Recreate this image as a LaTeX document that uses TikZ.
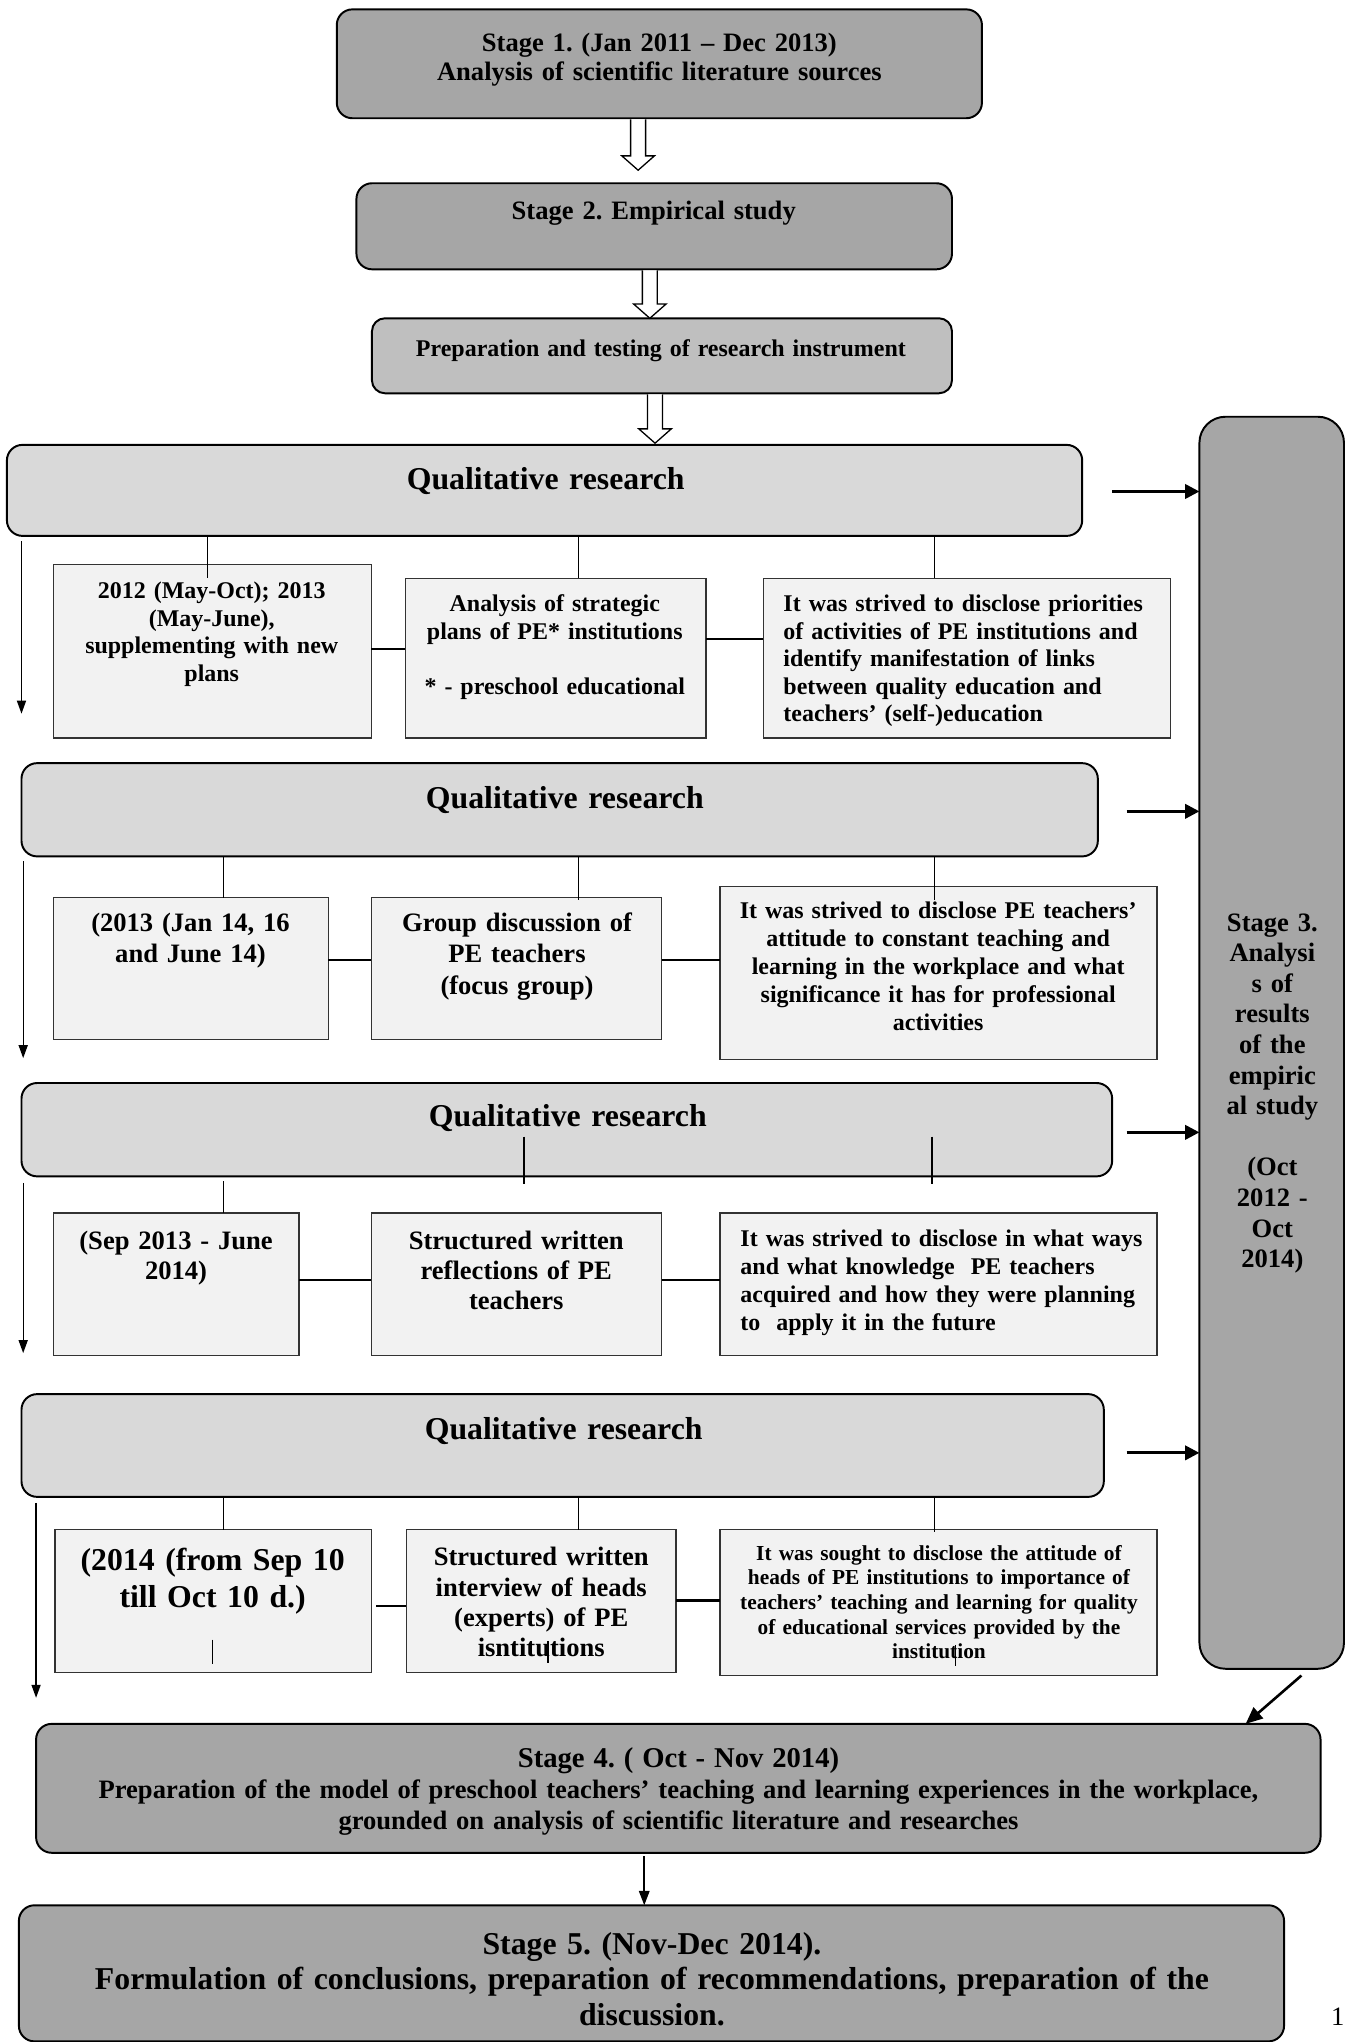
\documentclass[tikz,border=0pt]{standalone}
\usepackage{fontspec}
\setmainfont{Liberation Serif}
\usetikzlibrary{arrows.meta,calc,fit}
\definecolor{stagegray}{RGB}{166,166,166}
\definecolor{prepgray}{RGB}{191,191,191}
\definecolor{qrgray}{RGB}{217,217,217}
\definecolor{subgray}{RGB}{242,242,242}
\frenchspacing
\newcommand\fitbox[6]{\node[#2, fit={(#3,#4) (#5,#6)}] (#1) {};}
\newcommand\hollowarrow[2]{\filldraw[fill=white,draw=black,line width=1pt] let \p1=#1, \p2=#2 in
  (\x1-5.75pt,\y1-0.8pt) -- (\x1-5.75pt,\y2+11pt) -- (\x1-12.5pt,\y2+11pt) -- (\x1,\y2)
  -- (\x1+12.5pt,\y2+11pt) -- (\x1+5.75pt,\y2+11pt) -- (\x1+5.75pt,\y1-0.8pt);}
\begin{document}
\begin{tikzpicture}[x=1pt,y=-1pt,
  box/.style={draw, inner sep=0pt, outer sep=0pt},
  stagebox/.style={box, line width=1.5pt, fill=stagegray, rounded corners=12pt},
  prepbox/.style={box, line width=1.5pt, fill=prepgray, rounded corners=10pt},
  qrbox/.style={box, line width=1.5pt, fill=qrgray, rounded corners=12pt},
  subbox/.style={box, draw=black!80, line width=1pt, fill=subgray},
  txt/.style={inner sep=0pt, outer sep=0pt, align=center, anchor=base},
  ltxt/.style={inner sep=0pt, outer sep=0pt, align=left, anchor=base west},
  fz/.style 2 args={font=\fontsize{#1}{#2}\selectfont\bfseries},
  vline/.style={line width=0.9pt},
  hline/.style={line width=1.8pt},
  rarrow/.style={line width=2.2pt, -{Triangle[length=11pt,width=11pt]}},
  darrow/.style={line width=1pt, -{Triangle[length=10pt,width=7pt]}},
  diagarrow/.style={line width=2pt, -{Triangle[length=13pt,width=11pt]}},
  sarrow/.style={line width=1.5pt, -{Triangle[length=11pt,width=8pt]}}
]
\useasboundingbox (0,0) rectangle (1034,1568);

% ---------- boxes ----------
\fitbox{s1}{stagebox}{258.6}{7.2}{754}{90.8}
\fitbox{s2}{stagebox}{273.7}{140.7}{731}{206.8}
\fitbox{prep}{prepbox}{285.6}{244.4}{731}{302}
\fitbox{s3}{stagebox, rounded corners=20pt}{921}{320}{1032}{1281.4}
\fitbox{q1}{qrbox}{5.3}{341.6}{831}{411.5}
\fitbox{q2}{qrbox}{16.5}{586}{843}{657.6}
\fitbox{q3}{qrbox}{16.5}{831.6}{854}{903.3}
\fitbox{q4}{qrbox}{16.5}{1070.5}{847.6}{1149.4}
\fitbox{A}{subbox}{40.9}{433.7}{285}{566.8}
\fitbox{B}{subbox}{311.3}{444}{542}{566.8}
\fitbox{C}{subbox}{586}{444}{899}{566.8}
\fitbox{D}{subbox}{40.9}{689.2}{252}{798}
\fitbox{E}{subbox}{285}{689.2}{508}{798}
\fitbox{F}{subbox}{552.8}{680.5}{888.5}{813.5}
\fitbox{G}{subbox}{40.9}{931.4}{229.6}{1040.9}
\fitbox{H}{subbox}{285}{931.4}{508}{1040.9}
\fitbox{I}{subbox}{552.8}{931.4}{888.5}{1040.9}
\fitbox{J}{subbox}{42.2}{1174.5}{285}{1284}
\fitbox{K}{subbox}{312}{1174.5}{519}{1284}
\fitbox{L}{subbox}{552.8}{1174.5}{888.5}{1286.8}
\fitbox{s4}{stagebox}{27.7}{1323.7}{1014}{1422.7}
\fitbox{s5}{stagebox}{14.5}{1463}{986}{1567.5}

% ---------- texts ----------
\node[txt, fz={20.4}{22}, text width=480] (t1) at (506.3,39.6)
  {Stage 1. (Jan 2011 – Dec 2013)\\Analysis of scientific literature sources};
\node[txt, fz={20.4}{23.5}, text width=440] (t2) at (502,168.3) {Stage 2. Empirical study};
\node[txt, fz={18.4}{21.5}, text width=440] (tp) at (507.5,273.6) {Preparation and testing of research instrument};
\node[txt, fz={24.4}{28}, text width=400] (tq1) at (419,376) {Qualitative research};
\node[txt, fz={24.4}{28}, text width=400] (tq2) at (433.7,620.5) {Qualitative research};
\node[txt, fz={24.4}{28}, text width=400] (tq3) at (436,865) {Qualitative research};
\node[txt, fz={24.4}{28}, text width=400] (tq4) at (432.8,1105) {Qualitative research};

\node[txt, fz={18.4}{21.3}, text width=240] (tA) at (162.6,459.5)
  {2012 (May-Oct); 2013\\(May-June),\\supplementing with new\\plans};
\node[txt, fz={18.4}{21.3}, text width=228] (tB) at (426,469.6)
  {Analysis of strategic\\plans of PE* institutions\\\mbox{}\\{*} - preschool educational};
\node[ltxt, fz={18.4}{21.1}, text width=295] (tC) at (601.6,469.6)
  {It was strived to disclose priorities\\of activities of PE institutions and\\identify manifestation of links\\between quality education and\\teachers’ (self-)education};

\node[txt, fz={20.4}{24.3}, text width=208] (tD) at (146.3,715) {(2013 (Jan 14, 16\\and June 14)};
\node[txt, fz={20.4}{24.3}, text width=220] (tE) at (397,715) {Group discussion of\\PE teachers\\(focus group)};
\node[txt, fz={18.4}{21.45}, text width=330] (tF) at (720.4,705.5)
  {It was strived to disclose PE teachers’\\attitude to constant teaching and\\learning in the workplace and what\\significance it has for professional\\activities};

\node[txt, fz={20.4}{22.6}, text width=186] (tG) at (135.2,959.5) {(Sep 2013 - June\\2014)};
\node[txt, fz={20.4}{23}, text width=220] (tH) at (396.4,959.5) {Structured written\\reflections of PE\\teachers};
\node[ltxt, fz={18.4}{21.5}, text width=318] (tI) at (568.6,957.3)
  {It was strived to disclose in what ways\\and what knowledge\ \ PE teachers\\acquired and how they were planning\\to\ \ apply it in the future};

\node[txt, fz={24.4}{28}, text width=240] (tJ) at (163.3,1206) {(2014 (from Sep 10\\till Oct 10 d.)};
\node[txt, fz={20.4}{23.3}, text width=205] (tK) at (415.6,1202.4)
  {Structured written\\interview of heads\\(experts) of PE\\isntitutions};
\node[txt, fz={16.4}{18.9}, text width=332] (tL) at (721,1198)
  {It was sought to disclose the attitude of\\heads of PE institutions to importance of\\teachers’ teaching and learning for quality\\of educational services provided by the\\institution};

\node[txt, fz={20.4}{23.5}, text width=108] (t3) at (977,715)
  {Stage 3.\\Analysi\\s of\\results\\of the\\empiric\\al study\\\mbox{}\\(Oct\\2012 -\\Oct\\2014)};

\node[txt, fz={20.4}{23.7}, text width=970] (t4) at (521,1357.5)
  {{\fontsize{22}{23.7}\selectfont Stage 4. ( Oct - Nov 2014)}\\Preparation of the model of preschool teachers’ teaching and learning experiences in the workplace,\\grounded on analysis of scientific literature and researches};
\node[txt, fz={24.4}{27.5}, text width=960] (t5) at (500.6,1500.5)
  {Stage 5. (Nov-Dec 2014).\\Formulation of conclusions, preparation of recommendations, preparation of the\\discussion.};
\node[inner sep=0pt, anchor=base west, font=\fontsize{20.4}{23.5}\selectfont] (pg) at (1022,1555) {1};

% ---------- hollow arrows ----------
\coordinate (ha1) at (490,0);
\coordinate (ha2) at (499,0);
\coordinate (ha3) at (503,0);
\hollowarrow{(s1.south -| ha1)}{($(s2.north -| ha1)+(0,-10)$)}
\hollowarrow{(s2.south -| ha2)}{(prep.north -| ha2)}
\hollowarrow{(prep.south -| ha3)}{($(q1.north -| ha3)+(0,-1.3)$)}

% ---------- vertical connectors ----------
\coordinate (vA) at (159.6,0);  \coordinate (vB) at (444,0);   \coordinate (vC) at (717.7,0);
\coordinate (vD) at (171.5,0);  \coordinate (vE) at (444,0);   \coordinate (vF) at (717.7,0);
\coordinate (vG) at (171.5,0);  \coordinate (vH) at (402.4,0); \coordinate (vI) at (715.7,0);
\coordinate (vJ) at (171.5,0);  \coordinate (vK) at (444,0);   \coordinate (vL) at (717.7,0);

\draw[vline] (q1.south -| vA) -- ($(A.north -| vA)+(0,10.3)$);
\draw[vline] (q1.south -| vB) -- (B.north -| vB);
\draw[vline] (q1.south -| vC) -- (C.north -| vC);

\draw[vline] (q2.south -| vD) -- (D.north -| vD);
\draw[vline] (q2.south -| vE) -- ($(E.north -| vE)+(0,1.5)$);
\draw[vline] (q2.south -| vF) -- ($(F.north -| vF)+(0,10.2)$);

\draw[vline] ($(q3.south -| vG)+(0,3.7)$) -- (G.north -| vG);
\draw[vline] ($(q3.south -| vH)+(0,-30.5)$) -- ($(H.north -| vH)+(0,-22.5)$);
\draw[vline] ($(q3.south -| vI)+(0,-30.5)$) -- ($(I.north -| vI)+(0,-22.5)$);

\draw[vline] (q4.south -| vJ) -- (J.north -| vJ);
\draw[vline] (q4.south -| vK) -- (K.north -| vK);
\draw[vline] (q4.south -| vL) -- ($(L.north -| vL)+(0,2)$);

% stray cursor marks inside the last row
\draw[line width=0.9pt] (163,1259) -- (163,1278);
\draw[line width=0.9pt] (420.8,1260) -- (420.8,1277);
\draw[line width=0.9pt] (734,1263) -- (734,1279);

% ---------- horizontal connectors ----------
\coordinate (yab) at (0,498.2);
\coordinate (ybc) at (0,490.8);
\coordinate (yde) at (0,737);
\coordinate (ygh) at (0,983.1);
\coordinate (yjk) at (0,1233.4);
\coordinate (ykl) at (0,1229);
\draw[hline] (A.east |- yab) -- (B.west |- yab);
\draw[hline] (B.east |- ybc) -- (C.west |- ybc);
\draw[hline] (D.east |- yde) -- (E.west |- yde);
\draw[hline] (E.east |- yde) -- (F.west |- yde);
\draw[hline] (G.east |- ygh) -- (H.west |- ygh);
\draw[hline] (H.east |- ygh) -- (I.west |- ygh);
\draw[hline] ($(J.east |- yjk)+(4,0)$) -- (K.west |- yjk);
\draw[hline] (K.east |- ykl) -- (L.west |- ykl);

% ---------- arrows into stage 3 ----------
\coordinate (r1) at (854,377.4);
\coordinate (r2) at (865,623);
\coordinate (r3) at (865,869.5);
\coordinate (r4) at (865,1115.6);
\draw[rarrow] (r1) -- (r1 -| s3.west);
\draw[rarrow] (r2) -- (r2 -| s3.west);
\draw[rarrow] (r3) -- (r3 -| s3.west);
\draw[rarrow] (r4) -- (r4 -| s3.west);

% ---------- left downward arrows ----------
\coordinate (la1) at (16.5,415.8);  \coordinate (lb1) at (16.5,548);
\coordinate (la2) at (17.8,661.5);  \coordinate (lb2) at (17.8,812.5);
\coordinate (la3) at (17.8,908.3);  \coordinate (lb3) at (17.8,1039);
\coordinate (la4) at (27.7,1154);   \coordinate (lb4) at (27.7,1303.7);
\draw[darrow] (la1) -- (lb1);
\draw[darrow] (la2) -- (lb2);
\draw[darrow] (la3) -- (lb3);
\draw[darrow] (la4) -- (lb4);

% ---------- stage 3 -> stage 4, stage 4 -> stage 5 ----------
\coordinate (d1) at (999.3,1286.6);
\coordinate (d2) at (956.5,0);
\draw[diagarrow] (d1) -- (s4.north -| d2);
\coordinate (ax) at (494.7,0);
\draw[sarrow] ($(s4.south -| ax)+(0,2.6)$) -- (s5.north -| ax);
\end{tikzpicture}
\end{document}
